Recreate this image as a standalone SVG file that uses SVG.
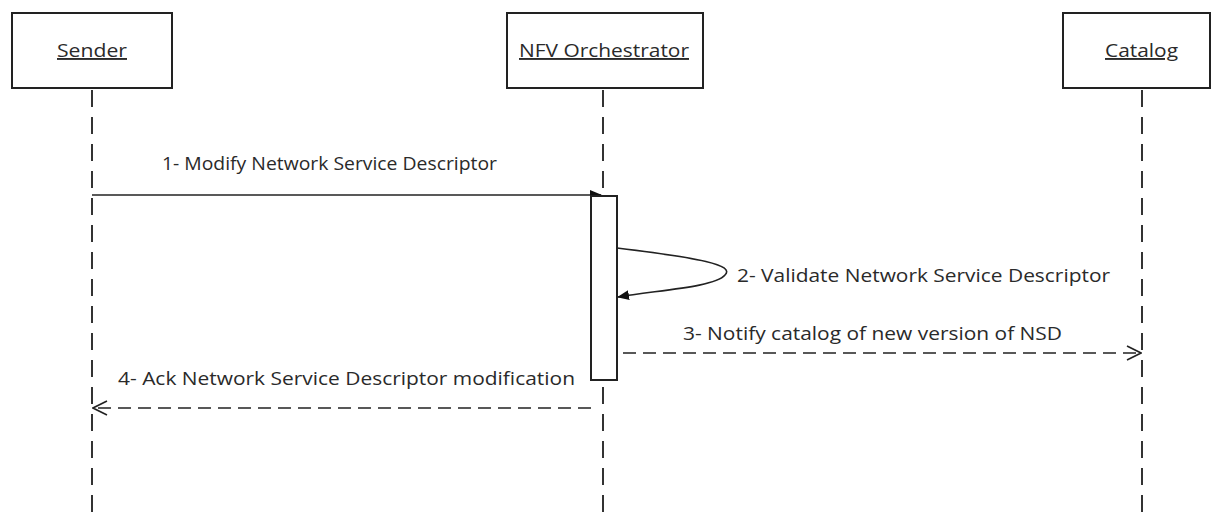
<svg xmlns="http://www.w3.org/2000/svg" width="1211" height="512" viewBox="0 0 1211 512">
<style>
.box{fill:#fff;stroke:#222;stroke-width:2}
.life{stroke:#333;stroke-width:2;stroke-dasharray:17 10;fill:none}
.msg{stroke:#222;stroke-width:1.6;fill:none}
.dash{stroke-dasharray:13 7}
.t{font-family:"Open Sans","Liberation Sans",sans-serif;font-size:18px;fill:#2a2a2a}
.h{text-decoration:underline;font-size:19px}
</style>
<defs>
<marker id="fill" markerWidth="12" markerHeight="10" refX="11" refY="5" orient="auto" markerUnits="userSpaceOnUse">
<path d="M0,0 L12,5 L0,10 Z" fill="#111"/>
</marker>
<marker id="open" markerWidth="16" markerHeight="16" refX="15" refY="8" orient="auto" markerUnits="userSpaceOnUse">
<path d="M1,1 L15,8 L1,15" fill="none" stroke="#222" stroke-width="1.6"/>
</marker>
</defs>
<g id="connectors">
<line class="life" x1="92" y1="90" x2="92" y2="512"/>
<line class="life" x1="603" y1="90" x2="603" y2="512"/>
<line class="life" x1="1142" y1="90" x2="1142" y2="512"/>
<line class="msg" x1="92" y1="195" x2="601" y2="195" marker-end="url(#fill)"/>
<path class="msg" d="M617,248 C700,258 735,265 725,275 C715,287 660,290 618,297" marker-end="url(#fill)"/>
<line class="msg dash" x1="623" y1="353" x2="1141" y2="353" marker-end="url(#open)"/>
<line class="msg dash" x1="591" y1="408" x2="93" y2="408" marker-end="url(#open)"/>
</g>
<g id="sender"><rect class="box" x="12" y="13" width="160" height="75"/><text class="t h" x="57" y="57" textLength="70" lengthAdjust="spacingAndGlyphs">Sender</text></g>
<g id="nfvo"><rect class="box" x="507" y="13" width="196" height="75"/><text class="t h" x="519" y="57" textLength="170" lengthAdjust="spacingAndGlyphs">NFV Orchestrator</text></g>
<g id="catalog"><rect class="box" x="1063" y="13" width="147" height="75"/><text class="t h" x="1105" y="57" textLength="73" lengthAdjust="spacingAndGlyphs">Catalog</text></g>
<g id="activation"><rect class="box" x="591" y="196" width="26" height="184" stroke-width="1.6"/></g>
<g id="labels">
<text class="t" x="162" y="170" textLength="335" lengthAdjust="spacingAndGlyphs">1- Modify Network Service Descriptor</text>
<text class="t" x="737" y="282" textLength="373" lengthAdjust="spacingAndGlyphs">2- Validate Network Service Descriptor</text>
<text class="t" x="683" y="340" textLength="379" lengthAdjust="spacingAndGlyphs">3- Notify catalog of new version of NSD</text>
<text class="t" x="118" y="385" textLength="457" lengthAdjust="spacingAndGlyphs">4- Ack Network Service Descriptor modification</text>
</g>
</svg>
